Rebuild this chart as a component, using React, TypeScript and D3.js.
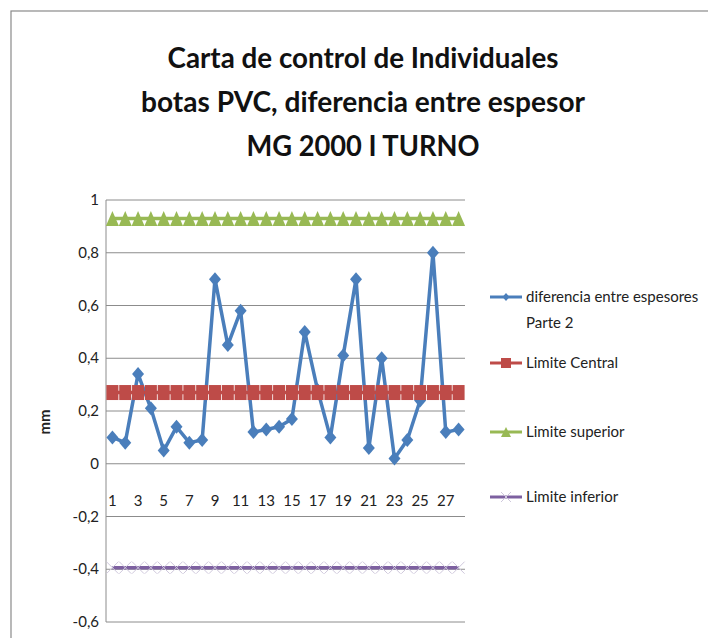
import React from "react";
import * as d3 from "d3";

const categories = Array.from({ length: 28 }, (_, i) => String(i + 1));
const diferencia = [0.10, 0.08, 0.34, 0.21, 0.05, 0.14, 0.08, 0.09, 0.70, 0.45, 0.58, 0.12, 0.13, 0.14, 0.17, 0.50, 0.28, 0.10, 0.41, 0.70, 0.06, 0.40, 0.02, 0.09, 0.24, 0.80, 0.12, 0.13];
const limiteCentral = 0.27;
const limiteSuperior = 0.93;
const limiteInferior = -0.394;
const yTicks = [1, 0.8, 0.6, 0.4, 0.2, 0, -0.2, -0.4, -0.6];
const titleLines = ["Carta de control de Individuales", "botas PVC, diferencia entre espesor", "MG 2000 I TURNO"];
const legendItems = ["diferencia entre espesores|Parte 2", "Limite Central", "Limite superior", "Limite inferior"];

const BLUE = "#4A7EBB";
const RED = "#BE4B48";
const GREEN = "#98B954";
const PURPLE = "#7D60A0";
const FONT = "Lato, 'Open Sans', sans-serif";

export default function App() {
  const left = 106, right = 465, top = 200, bottom = 622;
  const x = d3.scaleBand().domain(categories).range([left, right]);
  const y = d3.scaleLinear().domain([-0.6, 1]).range([bottom, top]);
  const cx = (c: string) => (x(c) as number) + x.bandwidth() / 2;
  const line = d3.line<number>().x((_, i) => cx(categories[i])).y((d) => y(d));
  const fmt = (v: number) => (v === 0 ? "0" : String(v).replace(".", ","));

  const diamond = (px: number, py: number, w: number, h: number) =>
    `M${px},${py - h / 2}L${px + w / 2},${py}L${px},${py + h / 2}L${px - w / 2},${py}Z`;
  const tri = (px: number, py: number, w: number, h: number) =>
    `M${px},${py - h / 2}L${px + w / 2},${py + h / 2}L${px - w / 2},${py + h / 2}Z`;

  const legendY = [297, 363, 432, 497];
  const lx0 = 490, lx1 = 522, lm = 506;

  return (
    <div style={{ position: "absolute", left: 0, top: 0 }}>
      <svg width={708} height={638} style={{ display: "block", background: "#fff" }}>
        <rect x={11} y={11} width={720} height={660} fill="#fff" stroke="#8a8a8a" strokeWidth={1.2} />
        {titleLines.map((t, i) => (
          <text key={i} x={363} y={68 + i * 44} textAnchor="middle" fontFamily={FONT} fontWeight="bold" fontSize={28} fill="#111"
            textLength={[391, 444, 233][i]} lengthAdjust="spacingAndGlyphs">{t}</text>
        ))}
        {yTicks.map((t) => (
          <line key={t} x1={left} x2={right} y1={y(t)} y2={y(t)} stroke="#8c8c8c" strokeWidth={1} />
        ))}
        <line x1={left} x2={left} y1={top} y2={bottom} stroke="#8c8c8c" strokeWidth={1} />
        {yTicks.map((t) => (
          <text key={t} x={99} y={y(t) + 5} textAnchor="end" fontFamily={FONT} fontSize={15} fill="#222">{fmt(t)}</text>
        ))}
        <text transform="translate(50,422) rotate(-90)" textAnchor="middle" fontFamily={FONT} fontSize={15} fontWeight="bold" fill="#222">mm</text>
        {categories.map((c, i) => i % 2 === 0 ? (
          <text key={c} x={cx(c)} y={y(0) + 42} textAnchor="middle" fontFamily={FONT} fontSize={15} fill="#222">{c}</text>
        ) : null)}
        {/* data series (drawn first, beneath the control limits) */}
        <path d={line(diferencia) || ""} fill="none" stroke={BLUE} strokeWidth={3.5} strokeLinejoin="round" />
        {diferencia.map((v, i) => (
          <path key={i} d={diamond(cx(categories[i]), y(v), 12, 14)} fill={BLUE} />
        ))}
        {/* CL */}
        <line x1={cx(categories[0])} x2={cx(categories[27])} y1={y(limiteCentral)} y2={y(limiteCentral)} stroke={RED} strokeWidth={3.5} />
        {categories.map((c) => (
          <rect key={c} x={cx(c) - 6} y={y(limiteCentral) - 7.5} width={12} height={15} fill={RED} />
        ))}
        {/* UCL */}
        <line x1={cx(categories[0])} x2={cx(categories[27])} y1={y(limiteSuperior)} y2={y(limiteSuperior)} stroke={GREEN} strokeWidth={3.5} />
        {categories.map((c) => (
          <path key={c} d={tri(cx(c), y(limiteSuperior), 13, 15)} fill={GREEN} />
        ))}
        {/* LCL */}
        <line x1={cx(categories[0])} x2={cx(categories[27])} y1={y(limiteInferior)} y2={y(limiteInferior)} stroke={PURPLE} strokeWidth={3.5} />
        {categories.map((c) => (
          <path key={c} d={`M${cx(c) - 6},${y(limiteInferior) - 6}L${cx(c) + 6},${y(limiteInferior) + 6}M${cx(c) - 6},${y(limiteInferior) + 6}L${cx(c) + 6},${y(limiteInferior) - 6}`}
            stroke="#cfc8dc" strokeWidth={1} fill="none" />
        ))}
        {legendItems.map((item, i) => {
          const ly = legendY[i];
          const color = [BLUE, RED, GREEN, PURPLE][i];
          const lines = item.split("|");
          return (
            <g key={i}>
              <line x1={lx0} x2={lx1} y1={ly} y2={ly} stroke={color} strokeWidth={3} />
              {i === 0 && <path d={diamond(lm, ly, 7, 8)} fill={BLUE} />}
              {i === 1 && <rect x={lm - 5} y={ly - 5} width={10} height={10} fill={RED} />}
              {i === 2 && <path d={tri(lm, ly, 10, 10)} fill={GREEN} />}
              {i === 3 && <path d={`M${lm - 5},${ly - 5}L${lm + 5},${ly + 5}M${lm - 5},${ly + 5}L${lm + 5},${ly - 5}`} stroke="#cfc8dc" strokeWidth={1} />}
              {lines.map((t, j) => (
                <text key={j} x={526} y={ly + 5 + j * 26} fontFamily={FONT} fontSize={15} fill="#222">{t}</text>
              ))}
            </g>
          );
        })}
      </svg>
    </div>
  );
}
